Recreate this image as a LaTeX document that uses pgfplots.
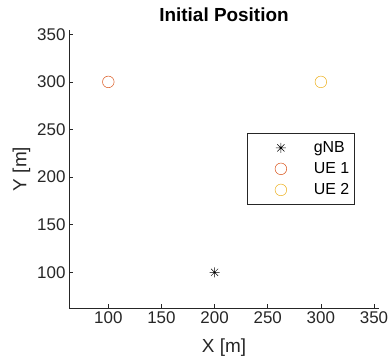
\documentclass[border=0pt]{standalone}
\usepackage{pgfplots}
\pgfplotsset{compat=1.18}
\usepackage{fontspec}
\setmainfont{Liberation Sans}
\definecolor{mred}{rgb}{0.85,0.325,0.098}
\definecolor{myel}{rgb}{0.929,0.694,0.125}
\definecolor{maxis}{rgb}{0.15,0.15,0.15}
\pgfdeclareplotmark{matstar}{%
  \pgfpathmoveto{\pgfqpoint{-\pgfplotmarksize}{0pt}}\pgfpathlineto{\pgfqpoint{\pgfplotmarksize}{0pt}}%
  \pgfpathmoveto{\pgfqpoint{0pt}{-\pgfplotmarksize}}\pgfpathlineto{\pgfqpoint{0pt}{\pgfplotmarksize}}%
  \pgfpathmoveto{\pgfqpoint{-0.707\pgfplotmarksize}{-0.707\pgfplotmarksize}}\pgfpathlineto{\pgfqpoint{0.707\pgfplotmarksize}{0.707\pgfplotmarksize}}%
  \pgfpathmoveto{\pgfqpoint{-0.707\pgfplotmarksize}{0.707\pgfplotmarksize}}\pgfpathlineto{\pgfqpoint{0.707\pgfplotmarksize}{-0.707\pgfplotmarksize}}%
  \pgfusepathqstroke}
\begin{document}
\begin{tikzpicture}
\begin{axis}[
  scale only axis,
  width=310bp, height=278bp,
  xmin=63, xmax=354.7, ymin=62.5, ymax=354.5,
  axis lines*=left,
  axis line style={maxis, line width=0.6pt},
  tick align=inside,
  major tick length=4bp,
  tick style={maxis, line width=0.6pt},
  xtick={100,150,...,350}, ytick={100,150,...,350},
  ticklabel style={font=\fontsize{17}{19}\selectfont, text=maxis},
  /pgf/number format/assume math mode=true,
  xlabel={X [m]}, ylabel={Y [m]},
  label style={font=\fontsize{19}{21}\selectfont, text=maxis},
  xlabel style={yshift=-8bp},
  title={\textbf{Initial Position}},
  title style={font=\fontsize{19}{21}\selectfont, yshift=-1bp},
  legend style={at={(0.573,0.628)}, anchor=north west, draw=maxis, line width=0.5pt,
    font=\fontsize{16}{18}\selectfont, row sep=3.5bp, inner xsep=3bp, inner ysep=5.5bp,
    nodes={inner ysep=2.5bp}},
  legend cell align=left,
  legend image code/.code={\path[draw=none,fill=none] (0bp,-3bp) rectangle (62bp,3bp);
    \draw[#1] plot coordinates {(31bp,0bp)};},
]
\addplot[only marks, mark=matstar, mark size=5bp, black, line width=0.5pt] coordinates {(200,100)};
\addlegendentry{gNB}
\addplot[only marks, mark=o, mark size=5.8bp, mred, line width=0.5pt] coordinates {(100,300)};
\addlegendentry{UE 1}
\addplot[only marks, mark=o, mark size=5.8bp, myel, line width=0.5pt] coordinates {(300,300)};
\addlegendentry{UE 2}
\end{axis}
\pgfresetboundingbox
\path (-69bp,-55bp) rectangle (321bp,308bp);
\end{tikzpicture}
\end{document}
